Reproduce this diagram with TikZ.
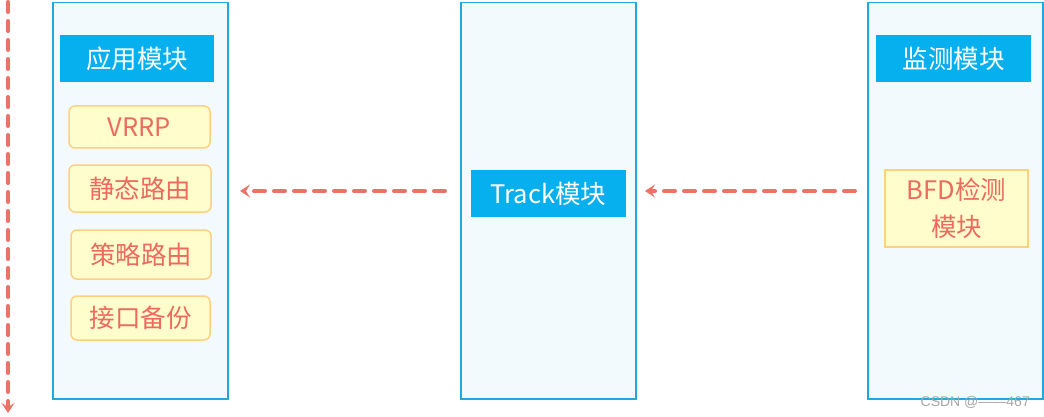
\documentclass[tikz,border=0pt]{standalone}
\usepackage{fontspec}
\setmainfont{Noto Sans CJK SC}
\newfontfamily\wmfont{Liberation Sans}
\usetikzlibrary{arrows.meta}
\definecolor{panelborder}{HTML}{1EA9DF}
\definecolor{panelfill}{HTML}{F3FAFD}
\definecolor{headfill}{HTML}{06B0EE}
\definecolor{itemfill}{HTML}{FFFDCC}
\definecolor{itemborder}{HTML}{FFD080}
\definecolor{itemtext}{HTML}{EC6B5E}
\definecolor{arrowred}{HTML}{EB7266}
\tikzset{
  panel/.style={draw=panelborder, line width=1.5pt, fill=panelfill},
  head/.style={fill=headfill, text=white, font=\fontsize{25.5}{30}\selectfont, inner sep=0pt},
  item/.style={draw=itemborder, line width=1.5pt, fill=itemfill, text=itemtext, rounded corners=6pt, font=\fontsize{25.5}{30}\selectfont, inner sep=0pt},
  flow/.style={draw=arrowred, line width=4pt, line cap=round, dash pattern=on 11pt off 9pt, -{Stealth[length=10pt,width=13pt,inset=4pt]}},
}
\begin{document}
\begin{tikzpicture}[x=1pt,y=-1pt]
\useasboundingbox (0,0) rectangle (1044,417);
% panels
\node[panel, minimum width=175pt, minimum height=396pt, anchor=north west] (app) at (52,2) {};
\node[panel, minimum width=175pt, minimum height=396pt, anchor=north west] (trk) at (460,2) {};
\node[panel, minimum width=175pt, minimum height=396pt, anchor=north west] (mon) at (867,2) {};
% headers
\node[head, minimum width=154pt, minimum height=47pt] (apph) at (137,58.5) {应用模块};
\node[head, minimum width=155pt, minimum height=47pt] (trkh) at (548.5,193.5) {Track模块};
\node[head, minimum width=155pt, minimum height=47pt] (monh) at (953.5,58.5) {监测模块};
% items
\node[item, minimum width=141pt, minimum height=42pt] (vrrp) at (139.5,127) {VRRP};
\node[item, minimum width=142pt, minimum height=47pt] (static) at (140,188.5) {静态路由};
\node[item, minimum width=140pt, minimum height=49pt] (policy) at (141,254.5) {策略路由};
\node[item, minimum width=139pt, minimum height=44pt] (iface) at (140.5,318) {接口备份};
\node[item, rounded corners=0pt, minimum width=143pt, minimum height=77pt, align=center, font=\fontsize{25.5}{37}\selectfont] (bfd) at (956.5,208.5) {BFD检测\\模块};
% arrows
\coordinate (a1s) at (445,191);
\coordinate (a1e) at (240,191);
\coordinate (a2s) at (855,191);
\coordinate (a2e) at (645,191);
\coordinate (vs) at (8,2);
\coordinate (ve) at (8,413);
\draw[flow] (a1s) -- (a1e);
\draw[flow] (a2s) -- (a2e);
\draw[flow, dash pattern=on 10pt off 9pt] (vs) -- (ve);
% watermark
\node[text=gray!70, font=\wmfont\fontsize{14}{16}\selectfont, anchor=east, inner sep=0pt] (wm) at (1030,402) {CSDN @——467};
\end{tikzpicture}
\end{document}
